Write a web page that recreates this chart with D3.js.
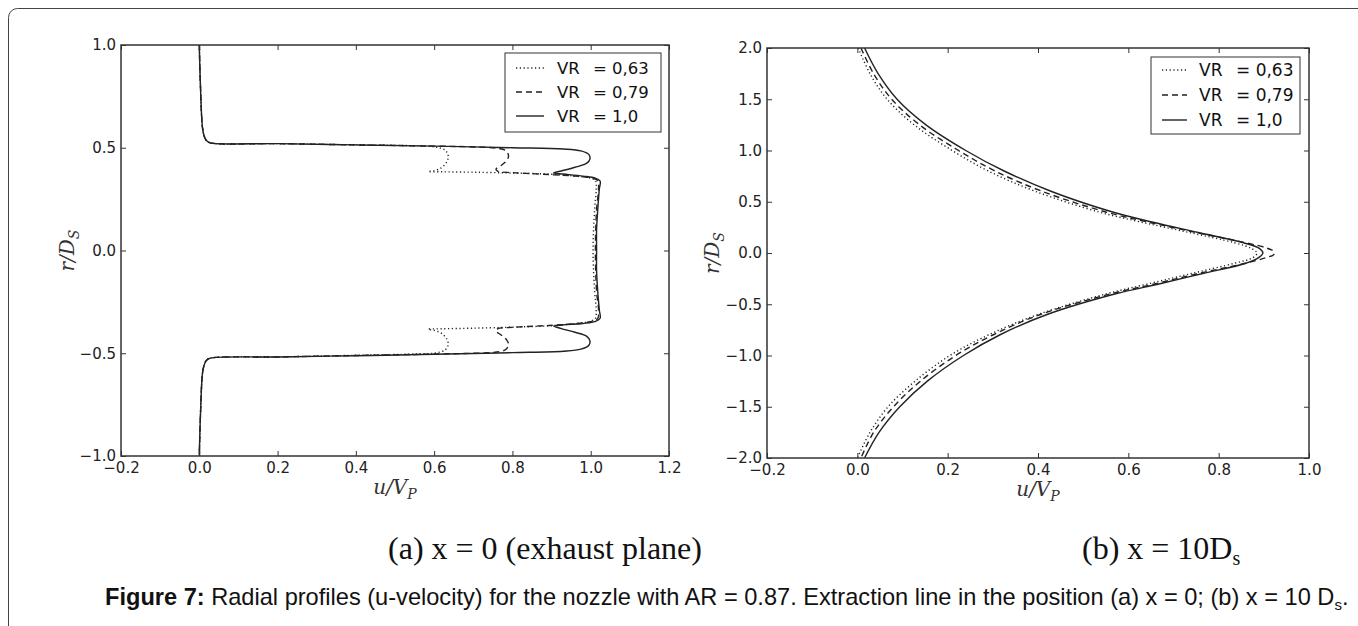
<!DOCTYPE html>
<html>
<head>
<meta charset="utf-8">
<script src="https://cdn.jsdelivr.net/npm/d3@7"></script>
<style>
  html, body { margin: 0; padding: 0; background: #fff; }
  svg { display: block; }
</style>
</head>
<body>
<svg id="chart" width="1358" height="626"></svg>
<script>
// ---------------- DATA ----------------
const seriesLabels = ["0,63", "0,79", "1,0"];
const seriesStyles = ["dotted", "dashed", "solid"];

const panelAXTicks = [-0.2, 0.0, 0.2, 0.4, 0.6, 0.8, 1.0, 1.2];
const panelAYTicks = [-1.0, -0.5, 0.0, 0.5, 1.0];
const panelBXTicks = [-0.2, 0.0, 0.2, 0.4, 0.6, 0.8, 1.0];
const panelBYTicks = [-2.0, -1.5, -1.0, -0.5, 0.0, 0.5, 1.0, 1.5, 2.0];

// Panel (a): x = 0, pairs [u/Vp, r/Ds]
const exitVR063 = [
  [0.000, 1.00], [0.003, 0.80], [0.008, 0.60], [0.012, 0.56], [0.018, 0.535], [0.028, 0.524],
  [0.2, 0.520], [0.4, 0.514], [0.56, 0.509], [0.605, 0.503], [0.628, 0.488], [0.636, 0.46],
  [0.632, 0.43], [0.618, 0.402], [0.60, 0.388], [0.585, 0.384], [0.62, 0.383], [0.70, 0.381],
  [0.80, 0.377], [0.90, 0.371], [0.96, 0.362], [0.998, 0.353], [1.012, 0.34], [1.014, 0.30],
  [1.010, 0.2], [1.006, 0.0], [1.010, -0.2], [1.014, -0.29], [1.012, -0.33], [0.998, -0.345],
  [0.96, -0.356], [0.90, -0.366], [0.80, -0.373], [0.70, -0.378], [0.62, -0.381], [0.585, -0.383],
  [0.60, -0.389], [0.618, -0.402], [0.632, -0.43], [0.636, -0.458], [0.628, -0.484], [0.605, -0.498],
  [0.56, -0.503], [0.4, -0.510], [0.2, -0.518], [0.028, -0.524], [0.018, -0.535], [0.012, -0.56],
  [0.008, -0.60], [0.003, -0.80], [0.000, -1.00]
];
const exitVR079 = [
  [0.000, 1.00], [0.003, 0.80], [0.008, 0.60], [0.012, 0.56], [0.018, 0.535], [0.028, 0.524],
  [0.2, 0.520], [0.4, 0.514], [0.6, 0.508], [0.72, 0.503], [0.76, 0.498], [0.783, 0.486],
  [0.79, 0.462], [0.786, 0.44], [0.772, 0.415], [0.758, 0.396], [0.762, 0.386], [0.80, 0.379],
  [0.86, 0.373], [0.91, 0.368], [0.96, 0.362], [1.003, 0.353], [1.018, 0.34], [1.020, 0.30],
  [1.015, 0.2], [1.012, 0.0], [1.015, -0.2], [1.020, -0.29], [1.018, -0.33], [1.003, -0.345],
  [0.96, -0.356], [0.91, -0.363], [0.86, -0.368], [0.80, -0.374], [0.762, -0.381], [0.758, -0.392],
  [0.772, -0.412], [0.786, -0.437], [0.79, -0.458], [0.783, -0.482], [0.76, -0.494], [0.72, -0.499],
  [0.6, -0.504], [0.4, -0.511], [0.2, -0.518], [0.028, -0.524], [0.018, -0.535], [0.012, -0.56],
  [0.008, -0.60], [0.003, -0.80], [0.000, -1.00]
];
const exitVR100 = [
  [0.000, 1.00], [0.003, 0.80], [0.008, 0.60], [0.012, 0.56], [0.018, 0.535], [0.028, 0.524],
  [0.2, 0.520], [0.4, 0.514], [0.6, 0.508], [0.8, 0.500], [0.93, 0.494], [0.975, 0.485],
  [0.995, 0.468], [0.998, 0.445], [0.99, 0.425], [0.96, 0.405], [0.925, 0.387], [0.905, 0.377],
  [0.93, 0.372], [0.98, 0.362], [1.012, 0.352], [1.024, 0.338], [1.022, 0.30], [1.018, 0.2],
  [1.015, 0.1], [1.015, 0.0], [1.015, -0.1], [1.018, -0.2], [1.022, -0.29], [1.024, -0.33],
  [1.012, -0.345], [0.98, -0.355], [0.93, -0.362], [0.905, -0.368], [0.925, -0.38], [0.96, -0.398],
  [0.99, -0.418], [0.998, -0.44], [0.995, -0.462], [0.975, -0.48], [0.93, -0.49], [0.8, -0.497],
  [0.6, -0.505], [0.4, -0.512], [0.2, -0.518], [0.028, -0.524], [0.018, -0.535], [0.012, -0.56],
  [0.008, -0.60], [0.003, -0.80], [0.000, -1.00]
];

// Panel (b): x = 10 Ds, pairs [u/Vp, r/Ds]
const farVR063 = [
  [0.002, 2.0], [0.028, 1.75], [0.066, 1.5], [0.126, 1.25], [0.21, 1.0], [0.29, 0.8],
  [0.395, 0.6], [0.535, 0.4], [0.63, 0.3], [0.735, 0.2], [0.835, 0.1], [0.872, 0.045],
  [0.885, 0.0], [0.876, -0.045], [0.835, -0.1], [0.74, -0.2], [0.645, -0.3], [0.55, -0.4],
  [0.40, -0.6], [0.29, -0.8], [0.205, -1.0], [0.128, -1.25], [0.068, -1.5], [0.028, -1.75],
  [0.0, -2.0]
];
const farVR079 = [
  [0.008, 2.0], [0.036, 1.75], [0.076, 1.5], [0.138, 1.25], [0.224, 1.0], [0.305, 0.8],
  [0.41, 0.6], [0.55, 0.4], [0.645, 0.3], [0.75, 0.2], [0.86, 0.1], [0.905, 0.05],
  [0.922, 0.015], [0.922, -0.015], [0.905, -0.045], [0.86, -0.1], [0.755, -0.2], [0.66, -0.3],
  [0.56, -0.4], [0.405, -0.6], [0.30, -0.8], [0.218, -1.0], [0.14, -1.25], [0.08, -1.5],
  [0.036, -1.75], [0.008, -2.0]
];
const farVR100 = [
  [0.016, 2.0], [0.046, 1.75], [0.088, 1.5], [0.152, 1.25], [0.24, 1.0], [0.325, 0.8],
  [0.43, 0.6], [0.565, 0.4], [0.655, 0.3], [0.755, 0.2], [0.855, 0.1], [0.89, 0.045],
  [0.898, 0.0], [0.89, -0.04], [0.86, -0.1], [0.765, -0.2], [0.67, -0.3], [0.57, -0.4],
  [0.42, -0.6], [0.315, -0.8], [0.235, -1.0], [0.155, -1.25], [0.094, -1.5], [0.048, -1.75],
  [0.016, -2.0]
];

// ---------------- DRAW ----------------
const svg = d3.select("#chart");
const ink = "#222";
const dashFor = { dotted: "1.2,2.6", dashed: "6,4", solid: null };

// outer rounded frame
svg.append("rect")
  .attr("x", 8.5).attr("y", 8.5).attr("width", 1420).attr("height", 700)
  .attr("rx", 9).attr("fill", "none").attr("stroke", "#444").attr("stroke-width", 1);

function drawPanel(cfg) {
  const g = svg.append("g");
  const x = d3.scaleLinear().domain(cfg.xDomain).range([cfg.left, cfg.right]);
  const y = d3.scaleLinear().domain(cfg.yDomain).range([cfg.bottom, cfg.top]);
  const fmt = d3.format(".1f");

  const clipId = "clip" + cfg.id;
  svg.append("clipPath").attr("id", clipId).append("rect")
    .attr("x", cfg.left).attr("y", cfg.top)
    .attr("width", cfg.right - cfg.left).attr("height", cfg.bottom - cfg.top);

  const line = d3.line().x(d => x(d[0])).y(d => y(d[1])).curve(d3.curveCatmullRom.alpha(0.5));
  cfg.series.forEach((s, i) => {
    g.append("path")
      .attr("d", line(s))
      .attr("clip-path", `url(#${clipId})`)
      .attr("fill", "none")
      .attr("stroke", ink)
      .attr("stroke-width", 1.4)
      .attr("stroke-dasharray", dashFor[seriesStyles[i]]);
  });

  const tl = 5;
  const axB = d3.axisBottom(x).tickValues(cfg.xTicks).tickFormat(fmt).tickSizeInner(-tl).tickSizeOuter(0).tickPadding(6);
  const axT = d3.axisTop(x).tickValues(cfg.xTicks).tickFormat("").tickSizeInner(-tl).tickSizeOuter(0);
  const axL = d3.axisLeft(y).tickValues(cfg.yTicks).tickFormat(fmt).tickSizeInner(-tl).tickSizeOuter(0).tickPadding(5);
  const axR = d3.axisRight(y).tickValues(cfg.yTicks).tickFormat("").tickSizeInner(-tl).tickSizeOuter(0);

  const gb = g.append("g").attr("transform", `translate(0,${cfg.bottom})`).call(axB);
  const gt = g.append("g").attr("transform", `translate(0,${cfg.top})`).call(axT);
  const gl = g.append("g").attr("transform", `translate(${cfg.left},0)`).call(axL);
  const gr = g.append("g").attr("transform", `translate(${cfg.right},0)`).call(axR);
  [gb, gt, gl, gr].forEach(a => {
    a.select(".domain").remove();
    a.selectAll(".tick line").attr("stroke", "#333").attr("stroke-width", 1);
    a.selectAll(".tick text").attr("fill", "#222")
      .style("font-family", "'DejaVu Sans', sans-serif").style("font-size", "15px");
  });

  g.append("rect")
    .attr("x", cfg.left).attr("y", cfg.top)
    .attr("width", cfg.right - cfg.left).attr("height", cfg.bottom - cfg.top)
    .attr("fill", "none").attr("stroke", "#333").attr("stroke-width", 1.5);

  // axis labels
  const xl = g.append("text")
    .attr("x", (cfg.left + cfg.right) / 2).attr("y", cfg.bottom + 38)
    .attr("text-anchor", "middle")
    .style("font-family", "'DejaVu Serif', serif").style("font-size", "20px").style("font-style", "italic")
    .attr("fill", "#333");
  xl.append("tspan").text("u/V");
  xl.append("tspan").text("P").attr("dy", 5).style("font-size", "14px");

  const yl = g.append("text")
    .attr("transform", `translate(${cfg.yLabelX},${(cfg.top + cfg.bottom) / 2}) rotate(-90)`)
    .attr("text-anchor", "middle")
    .style("font-family", "'DejaVu Serif', serif").style("font-size", "20px").style("font-style", "italic")
    .attr("fill", "#333");
  yl.append("tspan").text("r/D");
  yl.append("tspan").text("S").attr("dy", 5).style("font-size", "14px");

  // legend
  const lg = g.append("g");
  lg.append("rect")
    .attr("x", cfg.legend.x).attr("y", cfg.legend.y)
    .attr("width", cfg.legend.w).attr("height", cfg.legend.h)
    .attr("fill", "#fff").attr("stroke", "#333").attr("stroke-width", 1);
  seriesLabels.forEach((lab, i) => {
    const cy = cfg.legend.y + cfg.legend.firstRow + i * cfg.legend.rowH;
    lg.append("line")
      .attr("x1", cfg.legend.x + cfg.legend.lineX0).attr("x2", cfg.legend.x + cfg.legend.lineX1)
      .attr("y1", cy).attr("y2", cy)
      .attr("stroke", ink).attr("stroke-width", 1.4)
      .attr("stroke-dasharray", dashFor[seriesStyles[i]]);
    const t = lg.append("text").attr("y", cy + 6)
      .style("font-family", "'DejaVu Sans', sans-serif").style("font-size", cfg.legend.font + "px").attr("fill", "#111");
    t.append("tspan").attr("x", cfg.legend.x + cfg.legend.textX).text("VR");
    t.append("tspan").attr("x", cfg.legend.x + cfg.legend.eqX).text("= " + lab);
  });
}

drawPanel({
  id: "a", left: 121, right: 669, top: 45, bottom: 456,
  xDomain: [-0.2, 1.2], yDomain: [-1.0, 1.0],
  xTicks: panelAXTicks, yTicks: panelAYTicks,
  series: [exitVR063, exitVR079, exitVR100],
  yLabelX: 74,
  legend: { x: 505, y: 53, w: 156, h: 79, firstRow: 15, rowH: 24, lineX0: 11, lineX1: 39, textX: 52, eqX: 88, font: 16.5 }
});

drawPanel({
  id: "b", left: 767, right: 1309, top: 48, bottom: 458,
  xDomain: [-0.2, 1.0], yDomain: [-2.0, 2.0],
  xTicks: panelBXTicks, yTicks: panelBYTicks,
  series: [farVR063, farVR079, farVR100],
  yLabelX: 719,
  legend: { x: 1151, y: 57, w: 149, h: 77, firstRow: 13, rowH: 25, lineX0: 11, lineX1: 36, textX: 48, eqX: 85, font: 17 }
});

// sub-captions
svg.append("text").attr("x", 545).attr("y", 559).attr("text-anchor", "middle")
  .style("font-family", "'Liberation Serif', 'Times New Roman', serif").style("font-size", "32px")
  .attr("fill", "#111").text("(a) x = 0 (exhaust plane)");
const cb = svg.append("text").attr("x", 1082).attr("y", 559)
  .style("font-family", "'Liberation Serif', 'Times New Roman', serif").style("font-size", "32px")
  .attr("fill", "#111");
cb.append("tspan").text("(b) x = 10D");
cb.append("tspan").text("s").attr("dy", 6).style("font-size", "20px");

// figure caption
const fc = svg.append("text").attr("x", 105).attr("y", 605)
  .style("font-family", "'Liberation Sans', Arial, sans-serif").style("font-size", "23.6px")
  .attr("fill", "#111");
fc.append("tspan").text("Figure 7:").style("font-weight", "bold");
fc.append("tspan").text(" Radial profiles (u-velocity) for the nozzle with AR = 0.87. Extraction line in the position (a) x = 0; (b) x = 10 D");
fc.append("tspan").text("s").attr("dy", 5).style("font-size", "15px");
fc.append("tspan").text(".").attr("dy", -5);
</script>
</body>
</html>
